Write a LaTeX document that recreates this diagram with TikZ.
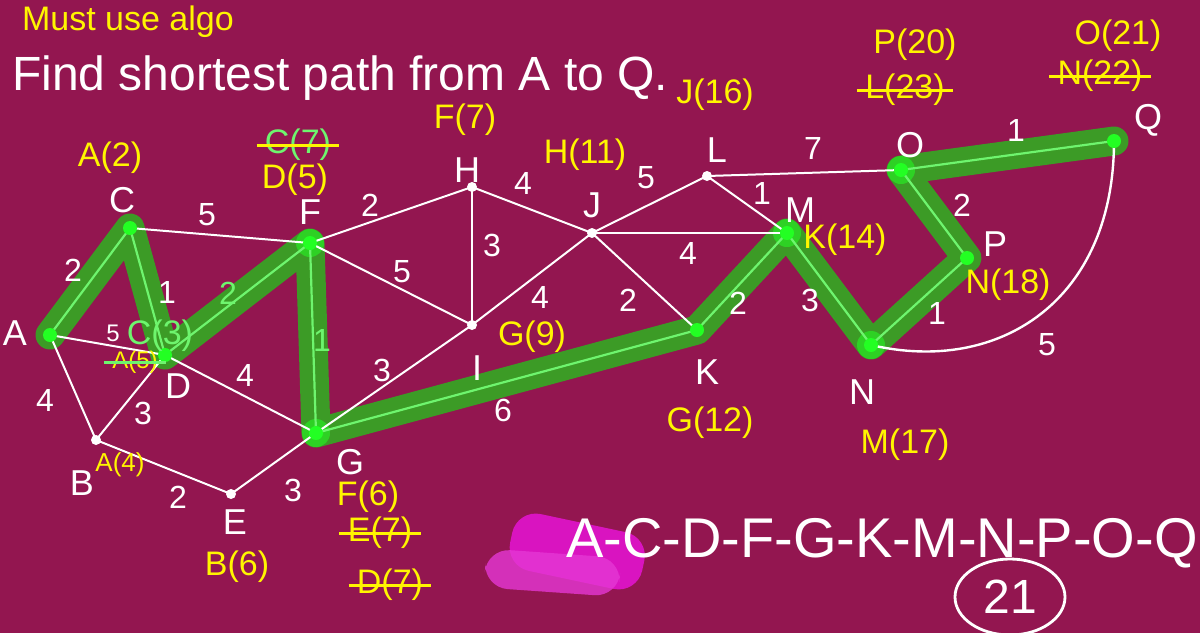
\documentclass[tikz,border=0pt]{standalone}
\usepackage{fontspec}
\setmainfont{Liberation Sans}
\usetikzlibrary{positioning,shapes.geometric}
\definecolor{board}{RGB}{147,22,80}
\definecolor{hlgreen}{RGB}{60,155,38}
\definecolor{pathgreen}{RGB}{110,245,110}
\definecolor{dotgreen}{RGB}{35,255,35}
\definecolor{marker}{RGB}{255,245,0}
\definecolor{blob}{RGB}{225,20,205}

\begin{document}
\begin{tikzpicture}[x=0.5pt,y=-0.5pt,
  vtx/.style={circle,fill=white,inner sep=0pt,minimum size=5pt},
  pvtx/.style={circle,fill=dotgreen,inner sep=0pt,minimum size=7pt},
  edge/.style={draw=white,line width=1pt},
  pedge/.style={draw=pathgreen,line width=1.1pt},
  hl/.style={draw=hlgreen,line width=14.5pt,line cap=round,line join=round},
  lbl/.style={text=white,font=\fontsize{18}{18}\selectfont,inner sep=1pt},
  wt/.style={text=white,font=\fontsize{16}{16}\selectfont,inner sep=1pt},
  ann/.style={text=marker,font=\fontsize{17}{17}\selectfont,inner sep=1pt},
  struck/.style={append after command={([xshift=-3pt]\tikzlastnode.west) edge[draw=#1,line width=1.5pt] ([xshift=3pt]\tikzlastnode.east)}}]
\fill[board] (0,0) rectangle (1200,633);
\useasboundingbox (0,0) rectangle (1200,633);

% vertices
\coordinate (A) at (50,335);
\coordinate (C) at (130,228);
\coordinate (D) at (165,355);
\coordinate (B) at (96,440);
\coordinate (E) at (231,494);
\coordinate (F) at (310,243);
\coordinate (G) at (316,433);
\coordinate (H) at (472,187);
\coordinate (I) at (472,325);
\coordinate (J) at (592,233);
\coordinate (K) at (697,330);
\coordinate (L) at (707,176);
\coordinate (M) at (787,233);
\coordinate (N) at (871,345);
\coordinate (O) at (901,170);
\coordinate (P) at (967,258);
\coordinate (Q) at (1114,141);

% shortest path marker
\draw[hl] (A) -- (C) -- (D) -- (F) -- (G) -- (K) -- (M) -- (N) -- (P) -- (O) -- (Q);
\foreach \v in {F,G,M,N,O}
  \fill[dotgreen,opacity=.55] (\v) circle (7pt);

% edges
\draw[edge] (A) -- (B);
\draw[edge] (A) -- (D);
\draw[edge] (C) -- (F);
\draw[edge] (B) -- (D);
\draw[edge] (B) -- (E);
\draw[edge] (E) -- (G);
\draw[edge] (D) -- (G);
\draw[edge] (F) -- (H);
\draw[edge] (F) -- (I);
\draw[edge] (G) -- (I);
\draw[edge] (H) -- (I);
\draw[edge] (H) -- (J);
\draw[edge] (I) -- (J);
\draw[edge] (J) -- (L);
\draw[edge] (J) -- (M);
\draw[edge] (J) -- (K);
\draw[edge] (L) -- (O);
\draw[edge] (L) -- (M);
\draw[edge,line width=1.2pt] (N) .. controls (1000,375) and (1114,300) .. (Q);
\draw[pedge] (A) -- (C) -- (D) -- (F) -- (G) -- (K) -- (M) -- (N) -- (P) -- (O) -- (Q);

\foreach \v in {B,E,H,I,J,L}
  \node[vtx] at (\v) {};
\foreach \v in {A,C,D,F,G,K,M,N,P,O,Q}
  \node[pvtx] at (\v) {};

% vertex letters
\node[lbl] at (15,333) {A};
\node[lbl] at (122,200) {C};
\node[lbl] at (178,386) {D};
\node[lbl] at (82,483) {B};
\node[lbl] at (235,522) {E};
\node[lbl] at (310,212) {F};
\node[lbl] at (350,462) {G};
\node[lbl] at (467,170) {H};
\node[lbl] at (477,368) {I};
\node[lbl] at (592,205) {J};
\node[lbl] at (707,372) {K};
\node[lbl] at (717,150) {L};
\node[lbl] at (800,210) {M};
\node[lbl] at (862,392) {N};
\node[lbl] at (910,145) {O};
\node[lbl] at (995,244) {P};
\node[lbl] at (1148,120) {Q};

% weights
\node[wt] at (73,270) {2};
\node[wt,font=\fontsize{12}{12}\selectfont] at (113,333) {5};
\node[wt] at (45,400) {4};
\node[wt] at (167,292) {1};
\node[wt] at (207,215) {5};
\node[wt,text=pathgreen] at (228,293) {2};
\node[wt] at (143,413) {3};
\node[wt] at (245,375) {4};
\node[wt] at (178,497) {2};
\node[wt] at (293,490) {3};
\node[wt,text=pathgreen] at (322,340) {1};
\node[wt] at (370,205) {2};
\node[wt] at (402,272) {5};
\node[wt] at (382,370) {3};
\node[wt] at (503,410) {6};
\node[wt] at (492,245) {3};
\node[wt] at (523,183) {4};
\node[wt] at (540,297) {4};
\node[wt] at (646,178) {5};
\node[wt] at (688,253) {4};
\node[wt] at (628,300) {2};
\node[wt] at (813,148) {7};
\node[wt] at (762,193) {1};
\node[wt] at (738,303) {2};
\node[wt] at (810,300) {3};
\node[wt] at (937,313) {1};
\node[wt] at (1047,345) {5};
\node[wt] at (962,205) {2};
\node[wt] at (1016,130) {1};

% running distances
\node[ann] at (110,158) {A(2)};
\node[ann,text=pathgreen,struck=marker] at (298,145) {C(7)};
\node[ann] at (295,180) {D(5)};
\node[ann] at (465,120) {F(7)};
\node[ann] at (585,155) {H(11)};
\node[ann] at (715,95) {J(16)};
\node[ann] at (915,45) {P(20)};
\node[ann,struck=marker] at (905,90) {L(23)};
\node[ann] at (1118,36) {O(21)};
\node[ann,struck=marker] at (1100,76) {N(22)};
\node[ann,text=pathgreen] at (160,336) {C(3)};
\node[ann,font=\fontsize{12}{12}\selectfont,struck=pathgreen] at (135,362) {A(5)};
\node[ann] at (532,337) {G(9)};
\node[ann] at (845,240) {K(14)};
\node[ann] at (1008,285) {N(18)};
\node[ann] at (710,423) {G(12)};
\node[ann] at (905,445) {M(17)};
\node[ann,font=\fontsize{13}{13}\selectfont] at (120,465) {A(4)};
\node[ann] at (237,567) {B(6)};
\node[ann] at (368,497) {F(6)};
\node[ann,struck=marker] at (380,533) {E(7)};
\node[ann,struck=marker] at (390,585) {D(7)};

% headings
\node[text=marker,font=\fontsize{17}{17}\selectfont,anchor=base west] (task) at (15,30) {Must use algo};
\node[text=white,font=\fontsize{24}{24}\selectfont,anchor=west] (title) at (5,78) {Find shortest path from A to Q.};

% answer
\fill[blob,opacity=.9,rounded corners=12pt,rotate around={-12:(575,550)}] (510,522) rectangle (645,580);
\fill[blob!85!white,opacity=.8,rounded corners=12pt,rotate around={-4:(550,572)}] (485,553) rectangle (620,592);
\node[text=white,font=\fontsize{28}{28}\selectfont] (route) at (882,543) {A-C-D-F-G-K-M-N-P-O-Q};
\node[ellipse,draw=white,line width=1.4pt,minimum width=55pt,minimum height=38pt,
  text=white,font=\fontsize{24}{24}\selectfont] (total) at (1010,597) {21};
\end{tikzpicture}
\end{document}
